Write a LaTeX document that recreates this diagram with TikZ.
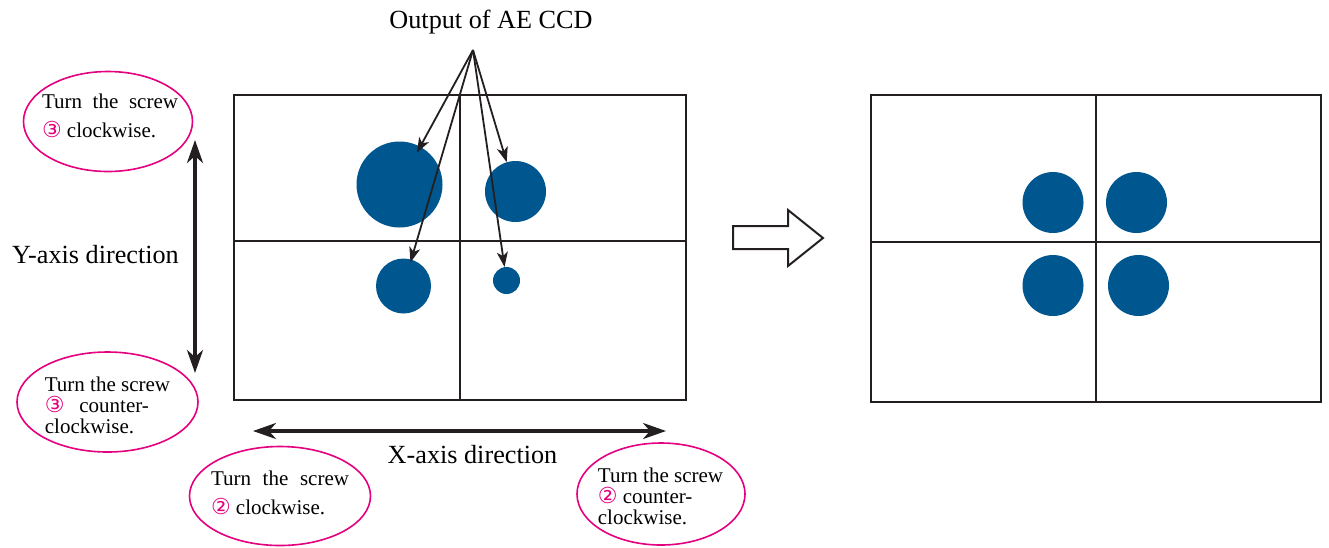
\documentclass[tikz,border=0pt]{standalone}
\usepackage{fontspec}
\setmainfont{Liberation Serif}
\newfontfamily\digitfont{DejaVu Sans}
\usepackage{tikz}
\usepackage{xcolor}
\usetikzlibrary{arrows.meta,positioning,shapes,calc}
\definecolor{ink}{HTML}{231F20}
\definecolor{spotblue}{HTML}{00568E}
\definecolor{screwpink}{HTML}{E4007F}
\newcommand{\screwno}[1]{{\digitfont\fontsize{22}{22}\selectfont\color{screwpink}#1}}
\tikzset{
  frame/.style={draw=ink,line width=2.3pt},
  spot/.style={circle,fill=spotblue,inner sep=0pt},
  hint/.style={ellipse,draw=screwpink,line width=1.6pt,inner sep=0pt},
  hinttext/.style={align=left,inner sep=0pt,font=\fontsize{21}{29}\selectfont},
  hinttight/.style={hinttext,font=\fontsize{21}{21}\selectfont},
  bigtext/.style={inner sep=0pt,font=\fontsize{26.2}{30}\selectfont},
  pointer/.style={-{Stealth[length=15pt,width=11pt,inset=4pt]},line width=1.8pt,draw=ink},
  axisarr/.style={{Stealth[length=23pt,width=16pt,inset=7pt]}-{Stealth[length=23pt,width=16pt,inset=7pt]},
                  line width=3.4pt,draw=ink}
}

\begin{document}
\begin{tikzpicture}[x=1pt,y=-1pt]
  \useasboundingbox (0,0) rectangle (1329,547);
  % left frame with spots
  \draw[frame] (234,95) rectangle (686,400);
  \draw[frame] (460,95) -- (460,400);
  \draw[frame] (234,241) -- (686,241);
  \node[spot,minimum size=86pt] (bigspot) at (399.5,184.5) {};
  \node[spot,minimum size=61pt] (rightspot) at (515.5,191.5) {};
  \node[spot,minimum size=55pt] (lowspot) at (403.5,286) {};
  \node[spot,minimum size=27pt] (tinyspot) at (506.5,280.5) {};
  % label and pointers
  \node[bigtext,anchor=base] (ccdlabel) at (491,28) {Output of AE CCD};
  \coordinate (ccdfan) at (473,50);
  \draw[pointer,shorten >=-7pt] (ccdfan) -- (bigspot);
  \draw[pointer,shorten >=-3pt] (ccdfan) -- (lowspot);
  \draw[pointer] (ccdfan) -- (rightspot);
  \draw[pointer] (ccdfan) -- (tinyspot);
  % axes
  \coordinate (ytop) at (195,140);
  \coordinate (ybot) at (195,373);
  \coordinate (xleft) at (253,431);
  \coordinate (xright) at (666,431);
  \draw[axisarr] (ytop) -- (ybot);
  \draw[axisarr] (xleft) -- (xright);
  \node[bigtext,anchor=base] (ylabel) at (95.5,263) {Y-axis direction};
  \node[bigtext,anchor=base] (xlabel) at (472.5,463) {X-axis direction};
  % screw hints
  \node[hint,minimum width=169pt,minimum height=100pt] (ycw) at (108,121.5) {};
  \node[hinttext] at (110,116) {\makebox[136pt][s]{Turn the screw}\\\screwno{③} clockwise.};
  \node[hint,minimum width=181pt,minimum height=100pt] (yccw) at (107.5,402) {};
  \node[hinttight] at (107.5,405) {Turn the screw\\\makebox[104pt][s]{\screwno{③} counter-}\\clockwise.};
  \node[hint,minimum width=181pt,minimum height=99pt] (xcw) at (280,496) {};
  \node[hinttext] at (280,493) {\makebox[138pt][s]{Turn the screw}\\\screwno{②} clockwise.};
  \node[hint,minimum width=168pt,minimum height=102pt] (xccw) at (661,494) {};
  \node[hinttight] at (660.5,496) {Turn the screw\\\screwno{②} counter-\\clockwise.};
  % block arrow
  \draw[ink,line width=2pt,line join=miter] (733,226) -- (788,226) -- (788,210) -- (823,238)
    -- (788,266) -- (788,249) -- (733,249) -- cycle;
  % right frame, centred spots
  \draw[frame] (871,95) rectangle (1321,402);
  \draw[frame] (1096,95) -- (1096,402);
  \draw[frame] (871,242) -- (1321,242);
  \node[spot,minimum size=61pt] (spotA) at (1053,202.5) {};
  \node[spot,minimum size=61pt] (spotB) at (1136.5,202.5) {};
  \node[spot,minimum size=61pt] (spotC) at (1053,285.5) {};
  \node[spot,minimum size=61pt] (spotD) at (1138.5,285.5) {};
\end{tikzpicture}
\end{document}
